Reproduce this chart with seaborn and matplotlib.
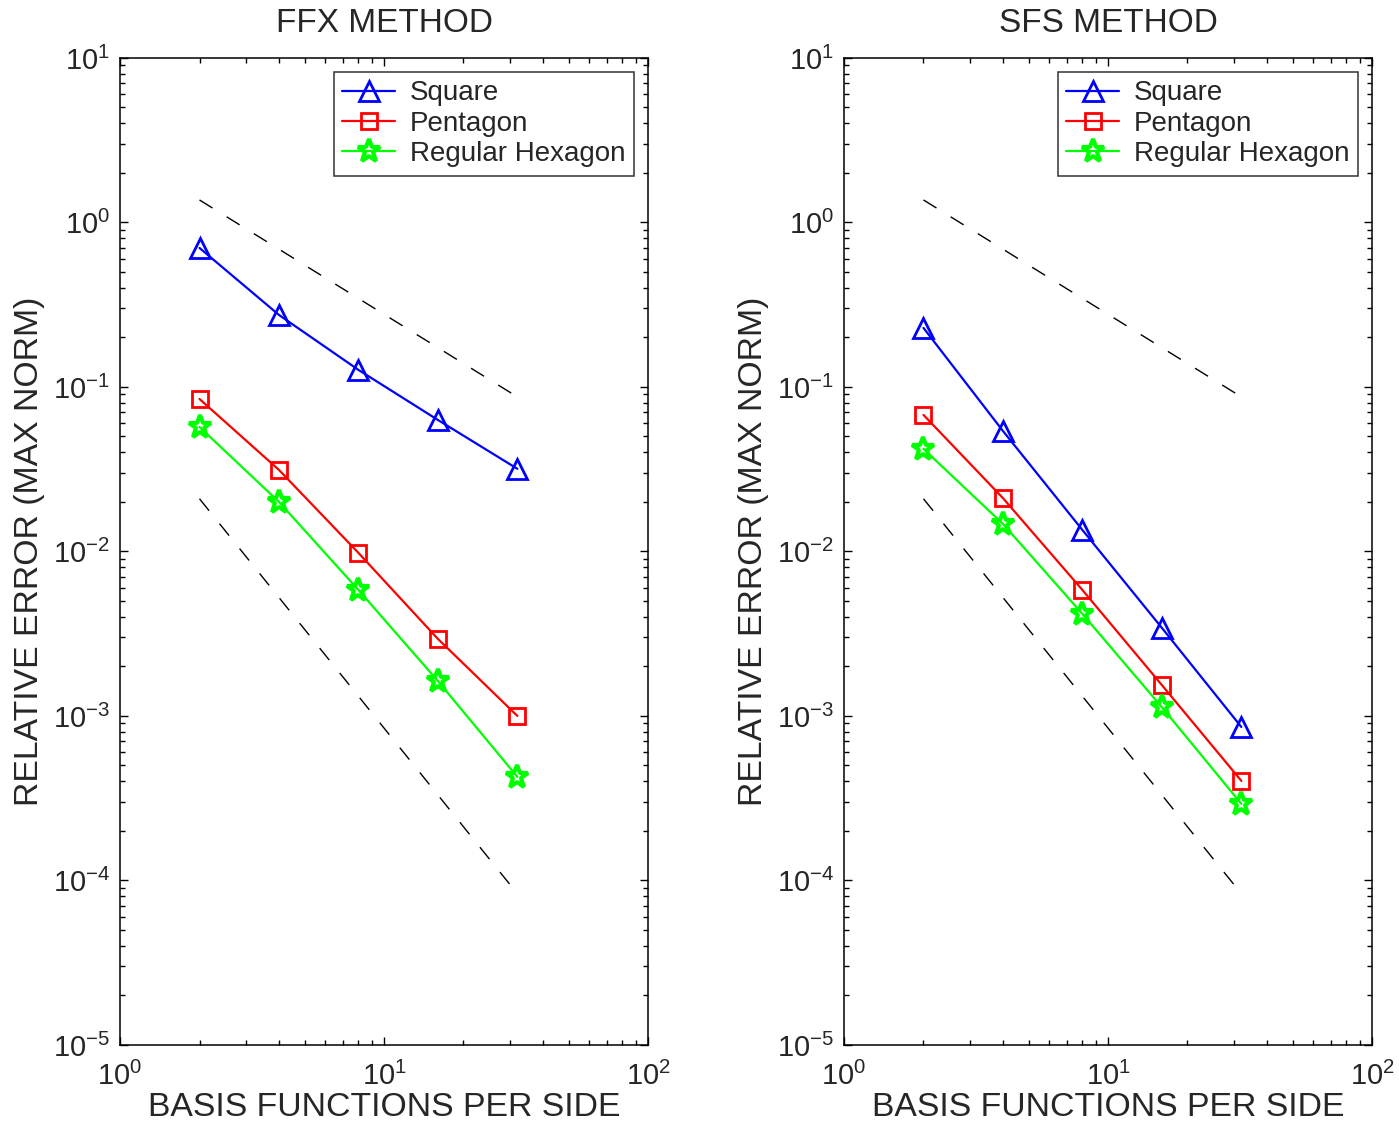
import numpy as np
import pandas as pd
import matplotlib
matplotlib.use("Agg")
import matplotlib.pyplot as plt
import seaborn as sns

# ---- data ----
n_basis = [2, 4, 8, 16, 32]
ffx_square = [0.70, 0.274, 0.127, 0.063, 0.0318]
ffx_pentagon = [0.0845, 0.0313, 0.0098, 0.00294, 0.0010]
ffx_hexagon = [0.0571, 0.0200, 0.00583, 0.00163, 0.000426]
sfs_square = [0.2285, 0.054, 0.0135, 0.00343, 0.000857]
sfs_pentagon = [0.0676, 0.0211, 0.00583, 0.00154, 0.000403]
sfs_hexagon = [0.042, 0.0147, 0.00417, 0.00113, 0.000292]
ref_x = [2, 32]
ref_first = [1.37, 0.087]
ref_second = [0.0209, 8.3e-5]
titles = ["FFX METHOD", "SFS METHOD"]
series_names = ["Square", "Pentagon", "Regular Hexagon"]
x_ticks = [1, 10, 100]
y_ticks = [1e-5, 1e-4, 1e-3, 1e-2, 1e-1, 1, 10]

sns.set_theme(style="white")
plt.rcParams["font.family"] = ["Liberation Sans", "DejaVu Sans"]
plt.rcParams["mathtext.fontset"] = "custom"
plt.rcParams["mathtext.rm"] = "Liberation Sans"
plt.rcParams["mathtext.it"] = "Liberation Sans:italic"
plt.rcParams["mathtext.bf"] = "Liberation Sans:bold"

fig = plt.figure(figsize=(13.99, 11.32), dpi=100)
axes = [fig.add_axes([0.0858, 0.0769, 0.3774, 0.8719]),
        fig.add_axes([0.6033, 0.0769, 0.3774, 0.8719])]

datasets = [
    [ffx_square, ffx_pentagon, ffx_hexagon],
    [sfs_square, sfs_pentagon, sfs_hexagon],
]
colors = ["#0000ff", "#ff0000", "#00ff00"]
markers = ["^", "s", "*"]
msizes = [15, 11, 17]
mews = [2.0, 2.0, 3.0]

for ax, data, title in zip(axes, datasets, titles):
    for vals, name, c, m, ms, mew in zip(data, series_names, colors, markers, msizes, mews):
        sns.lineplot(x=n_basis, y=vals, ax=ax, color=c, marker=m,
                     markersize=ms, markerfacecolor="none",
                     markeredgecolor=c, markeredgewidth=mew,
                     linewidth=1.6, label=name)
    for ry in (ref_first, ref_second):
        sns.lineplot(x=ref_x, y=ry, ax=ax, color="black", linewidth=1.0,
                     dashes=False, linestyle=(0, (11, 12)))
    ax.set_xscale("log")
    ax.set_yscale("log")
    ax.set_xlim(1, 100)
    ax.set_ylim(1e-5, 10)
    ax.xaxis.set_major_locator(matplotlib.ticker.FixedLocator(x_ticks))
    ax.yaxis.set_major_locator(matplotlib.ticker.FixedLocator(y_ticks))
    ax.xaxis.set_major_formatter(matplotlib.ticker.LogFormatterSciNotation())
    ax.yaxis.set_major_formatter(matplotlib.ticker.LogFormatterSciNotation())
    ax.xaxis.set_minor_locator(matplotlib.ticker.FixedLocator(
        [s * d for d in (1, 10) for s in range(2, 10)]))
    ax.yaxis.set_minor_locator(matplotlib.ticker.FixedLocator(
        [s * d for d in (1e-5, 1e-4, 1e-3, 1e-2, 1e-1, 1) for s in range(2, 10)]))
    ax.xaxis.set_minor_formatter(matplotlib.ticker.NullFormatter())
    ax.yaxis.set_minor_formatter(matplotlib.ticker.NullFormatter())
    ax.set_title(title, fontsize=24, pad=19)
    ax.set_xlabel("BASIS FUNCTIONS PER SIDE", fontsize=24.3, labelpad=1)
    ax.set_ylabel("RELATIVE ERROR (MAX NORM)", fontsize=24.3, labelpad=6)
    ax.tick_params(which="both", direction="in", top=True, right=True,
                   bottom=True, left=True, labelsize=21, color="black")
    ax.tick_params(which="major", length=6, width=1.0)
    ax.tick_params(which="minor", length=3.5, width=1.0)
    ax.tick_params(axis="y", which="major", pad=7)
    ax.tick_params(axis="x", which="major", pad=12)
    for s in ax.spines.values():
        s.set_color("black")
        s.set_linewidth(1.1)
    ax.grid(False)
    leg = ax.legend(loc="upper right", bbox_to_anchor=(0.9735, 0.9858),
                    borderaxespad=0, fontsize=20, frameon=True, fancybox=False,
                    handlelength=1.9, handletextpad=0.55, labelspacing=0.16,
                    borderpad=0.3)
    leg.get_frame().set_edgecolor("black")
    leg.get_frame().set_linewidth(1.1)

fig.savefig("out.png", dpi=100, facecolor="white")
